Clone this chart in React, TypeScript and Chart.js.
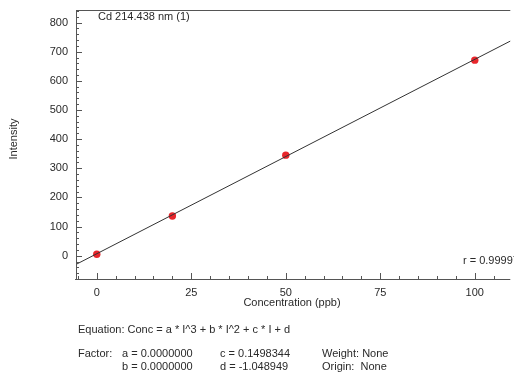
import React, { useEffect, useRef } from "react";
import { Chart, registerables } from "chart.js";

Chart.register(...registerables);

const standardConc = [0, 20, 50, 100];
const standardIntensity = [5, 136, 345, 671];
const fitConc = [-5.5, 109.5];
const fitIntensity = [-30, 737];

const xMajorTicks = [0, 25, 50, 75, 100];
const xMinorStep = 5;
const yMajorTicks = [0, 100, 200, 300, 400, 500, 600, 700, 800];
const yMinorStep = 20;

const titleText = "Cd 214.438 nm (1)";
const rText = "r = 0.99997";
const xTitle = "Concentration (ppb)";
const yTitle = "Intensity";
const equationText = "Equation: Conc = a * I^3 + b * I^2 + c * I + d";
const factorRows = [
  ["Factor:", "a = 0.0000000", "c = 0.1498344", "Weight: None"],
  ["", "b = 0.0000000", "d = -1.048949", "Origin:  None"],
];

const FONT = "11px 'Liberation Sans', Arial, sans-serif";
const TEXT = "#2a2a2a";
const AXIS = "#555";

const decorPlugin = {
  id: "decor",
  afterDraw(chart: any) {
    const ctx = chart.ctx as CanvasRenderingContext2D;
    const xs = chart.scales.x;
    const ys = chart.scales.y;
    const a = chart.chartArea;
    ctx.save();
    ctx.strokeStyle = AXIS;
    ctx.lineWidth = 1;
    ctx.beginPath();
    ctx.moveTo(a.left + 0.5, a.top);
    ctx.lineTo(a.left + 0.5, a.bottom);
    ctx.moveTo(a.left - 1, a.bottom + 0.5);
    ctx.lineTo(a.right, a.bottom + 0.5);
    ctx.moveTo(a.left, a.top + 0.5);
    ctx.lineTo(a.right, a.top + 0.5);
    ctx.stroke();
    ctx.beginPath();
    for (let v = Math.ceil(xs.min / xMinorStep) * xMinorStep; v <= xs.max; v += xMinorStep) {
      const px = Math.round(xs.getPixelForValue(v)) + 0.5;
      const major = xMajorTicks.includes(v);
      ctx.moveTo(px, a.bottom);
      ctx.lineTo(px, a.bottom - (major ? 6 : 3));
    }
    for (let v = Math.ceil(ys.min / yMinorStep) * yMinorStep; v <= ys.max; v += yMinorStep) {
      const py = Math.round(ys.getPixelForValue(v)) + 0.5;
      const major = yMajorTicks.includes(v);
      ctx.moveTo(a.left, py);
      ctx.lineTo(a.left + (major ? 6 : 3), py);
    }
    ctx.stroke();
    ctx.fillStyle = TEXT;
    ctx.font = FONT;
    ctx.textAlign = "center";
    ctx.textBaseline = "middle";
    xMajorTicks.forEach((v) => ctx.fillText(String(v), xs.getPixelForValue(v), a.bottom + 14));
    ctx.textAlign = "right";
    yMajorTicks.forEach((v) => ctx.fillText(String(v), a.left - 8, ys.getPixelForValue(v)));
    ctx.textAlign = "center";
    ctx.fillText(xTitle, 292, a.bottom + 24);
    ctx.save();
    ctx.translate(14, 139);
    ctx.rotate(-Math.PI / 2);
    ctx.fillText(yTitle, 0, 0);
    ctx.restore();
    ctx.textAlign = "left";
    ctx.fillText(titleText, 98, 17);
    ctx.fillText(rText, 463, 261);
    ctx.fillText(equationText, 78, 330);
    const cols = [78, 122, 220, 322];
    factorRows.forEach((row, r) => {
      row.forEach((t, c) => ctx.fillText(t, cols[c], 354 + r * 13));
    });
    ctx.restore();
  },
};

export default function App() {
  const ref = useRef<HTMLCanvasElement | null>(null);
  useEffect(() => {
    if (!ref.current) return;
    const chart = new Chart(ref.current, {
      type: "scatter",
      data: {
        datasets: [
          {
            type: "line",
            data: fitConc.map((x, i) => ({ x, y: fitIntensity[i] })),
            borderColor: "#333",
            borderWidth: 1,
            pointRadius: 0,
            fill: false,
          },
          {
            data: standardConc.map((x, i) => ({ x, y: standardIntensity[i] })),
            backgroundColor: "#e8262c",
            borderColor: "#e8262c",
            borderWidth: 0,
            pointRadius: 3.7,
            pointHoverRadius: 3.7,
          },
        ],
      },
      options: {
        responsive: false,
        animation: false,
        layout: { padding: { left: 76, right: 0, top: 10, bottom: 93 } },
        plugins: { legend: { display: false }, tooltip: { enabled: false } },
        scales: {
          x: { type: "linear", min: -5.5, max: 109.4, display: false },
          y: { type: "linear", min: -80, max: 843, display: false },
        },
      },
      plugins: [decorPlugin],
    });
    return () => chart.destroy();
  }, []);
  return (
    <div style={{ position: "fixed", left: 0, top: 0, width: 514, height: 372, background: "#fff" }}>
      <canvas ref={ref} width={514} height={372} style={{ width: 514, height: 372 }} />
    </div>
  );
}
